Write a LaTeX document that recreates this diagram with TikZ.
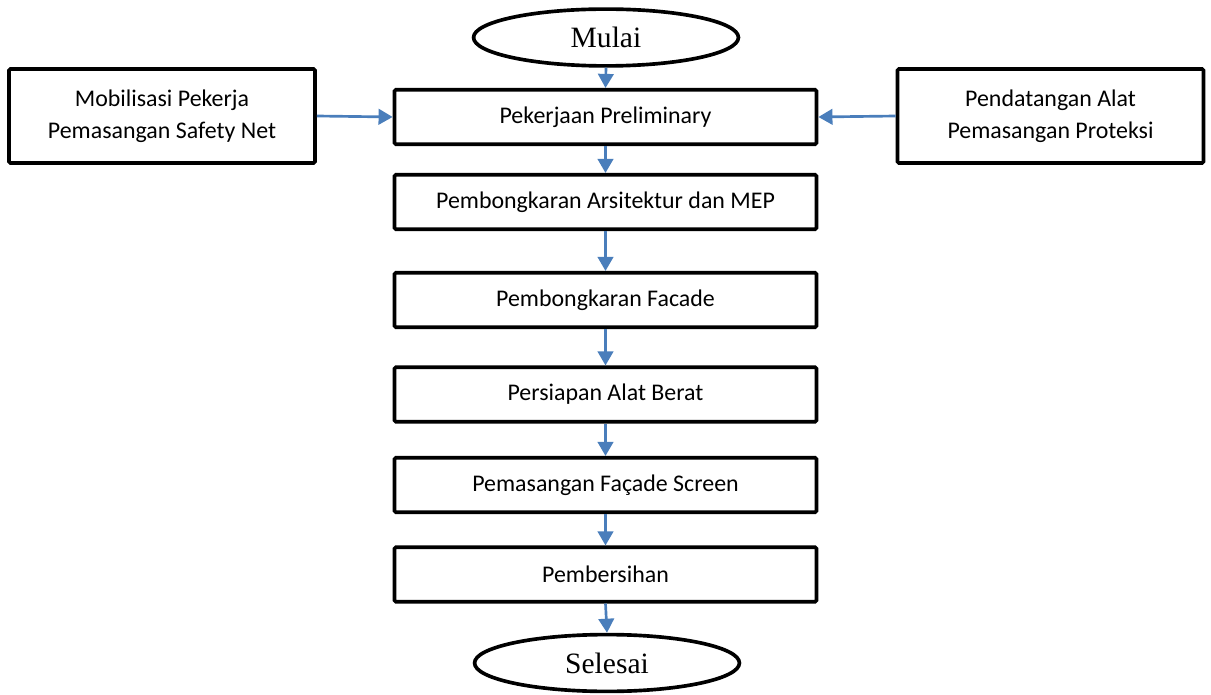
\documentclass[tikz,border=0pt]{standalone}
\usepackage{fontspec}
\setmainfont{Carlito}
\newfontfamily\termfont{Liberation Serif}
\usetikzlibrary{shapes.geometric,arrows.meta}
\definecolor{fcblue}{HTML}{4A7EBB}
\tikzset{
 fc box/.style={draw=black,line width=2.6pt,rounded corners=1pt,fill=white,
                minimum width=10.55cm,minimum height=1.36cm,inner sep=0pt,
                font=\fontsize{17}{22.5}\selectfont},
 fc side/.style={fc box,minimum width=7.65cm,minimum height=2.35cm,align=center},
 fc terminal/.style={ellipse,draw=black,line width=2.6pt,fill=white,
                minimum width=6.62cm,minimum height=1.42cm,inner sep=0pt,
                font=\termfont\fontsize{21}{24}\selectfont},
 fc arrow/.style={draw=fcblue,line width=1.9pt,
                  -{Triangle[width=11pt,length=10pt]}}
}
\begin{document}
\begin{tikzpicture}[x=0.025cm,y=-0.025cm]
 \useasboundingbox (0,0) rectangle (1211,695);
 % start and end
 \node[fc terminal] (mulai) at (606,37.5) {Mulai};
 \node[fc terminal] (selesai) at (607,663) {Selesai};
 % main steps
 \node[fc box] (prelim) at (605.5,117) {Pekerjaan Preliminary};
 \node[fc box] (bongkar) at (605.5,202) {Pembongkaran Arsitektur dan MEP};
 \node[fc box] (facade) at (605.5,300) {Pembongkaran Facade};
 \node[fc box] (alat) at (605.5,394.5) {Persiapan Alat Berat};
 \node[fc box] (screen) at (605.5,485) {Pemasangan Façade Screen};
 \node[fc box] (bersih) at (605.5,574.5) {Pembersihan};
 % side inputs
 \node[fc side] (mobil) at (162,116) {Mobilisasi Pekerja\\Pemasangan Safety Net};
 \node[fc side] (datang) at (1050.5,116) {Pendatangan Alat\\Pemasangan Proteksi};
 % connectors
 \draw[fc arrow] (mulai.south) -- (prelim.north);
 \draw[fc arrow] (prelim) -- (bongkar);
 \draw[fc arrow] (bongkar) -- (facade);
 \draw[fc arrow] (facade) -- (alat);
 \draw[fc arrow] (alat) -- (screen);
 \draw[fc arrow] (screen) -- (bersih);
 \draw[fc arrow] (bersih.south) -- (selesai.north);
 \draw[fc arrow] (mobil.east) -- (prelim.west);
 \draw[fc arrow] (datang.west) -- (prelim.east);
\end{tikzpicture}
\end{document}
